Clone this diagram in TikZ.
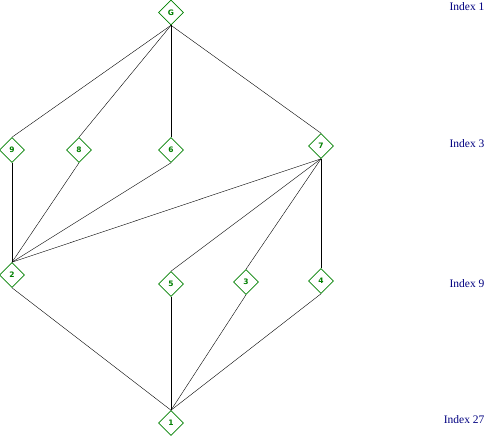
\documentclass[tikz,border=0pt]{standalone}
\usepackage{fontspec}
\setmainfont{Liberation Serif}
\setsansfont{DejaVu Sans}
\usetikzlibrary{shapes.geometric}
\definecolor{lattgreen}{RGB}{0,128,0}
\definecolor{idxblue}{RGB}{0,0,128}

\begin{document}
\begin{tikzpicture} [x=1pt, y=-1pt,
  grp/.style={diamond, draw=lattgreen, fill=white, text=lattgreen, inner sep=0pt, line width=0.6pt,
    minimum width=25pt, minimum height=25pt, font=\sffamily\bfseries\fontsize{7.5}{8}\selectfont},
  idx/.style={anchor=east, text=idxblue, font=\fontsize{11.5}{13}\selectfont}]
\useasboundingbox (0,0) rectangle (487,436);
% subgroups
\node[grp] (G) at (171,12.5) {G};
\node[grp] (n9) at (12,150) {9};
\node[grp] (n8) at (79,150) {8};
\node[grp] (n6) at (171,150) {6};
\node[grp] (n7) at (321,146) {7};
\node[grp] (n2) at (12,275) {2};
\node[grp] (n5) at (171,284) {5};
\node[grp] (n3) at (246,282) {3};
\node[grp] (n4) at (321,281) {4};
\node[grp] (n1) at (171,423) {1};
% inclusions
\foreach \a/\b in {G/n9, G/n8, G/n6, G/n7, n9/n2, n8/n2, n6/n2, n7/n2, n7/n5, n7/n3, n7/n4, n2/n1, n5/n1, n3/n1, n4/n1}
 \draw[black] (\a.south) -- (\b.north);
% indices
\node[idx] (i1) at (488,7) {Index 1};
\node[idx] (i3) at (488,144) {Index 3};
\node[idx] (i9) at (488,284) {Index 9};
\node[idx] (i27) at (488,420) {Index 27};
\end{tikzpicture}
\end{document}
